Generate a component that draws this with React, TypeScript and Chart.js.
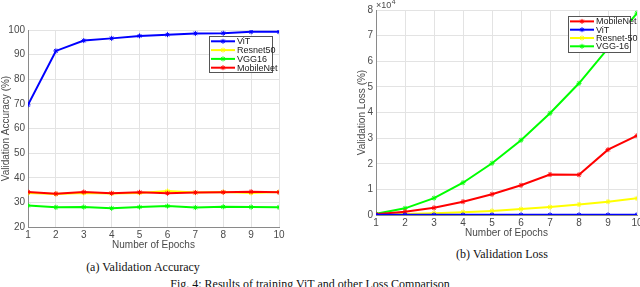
import React, { useEffect, useRef } from "react";
import { Chart, registerables } from "chart.js";

Chart.register(...registerables);

// ---------- DATA ----------
const epochs = [1, 2, 3, 4, 5, 6, 7, 8, 9, 10];

// Validation accuracy (%)
const accViT = [69.6, 91.5, 95.7, 96.6, 97.6, 98.1, 98.6, 98.7, 99.3, 99.3];
const accResnet50 = [33.8, 33.4, 33.8, 33.6, 33.8, 34.6, 34.0, 34.2, 33.8, 34.2];
const accVGG16 = [28.7, 28.0, 28.1, 27.6, 28.1, 28.5, 27.9, 28.2, 28.1, 28.0];
const accMobileNet = [34.2, 33.5, 34.2, 33.7, 34.1, 33.7, 34.0, 34.1, 34.3, 34.1];

// Validation loss (in units of 10^4)
const lossMobileNet = [0.03, 0.13, 0.28, 0.52, 0.81, 1.16, 1.58, 1.57, 2.55, 3.1];
const lossViT = [0.005, 0.005, 0.005, 0.005, 0.005, 0.005, 0.005, 0.005, 0.005, 0.005];
const lossResnet50 = [0.02, 0.04, 0.07, 0.11, 0.16, 0.23, 0.31, 0.41, 0.52, 0.65];
const lossVGG16 = [0.05, 0.26, 0.66, 1.26, 2.02, 2.92, 3.97, 5.14, 6.5, 7.88];

const accLegend = ["ViT", "Resnet50", "VGG16", "MobileNet"];
const lossLegend = ["MobileNet", "ViT", "Resnet-50", "VGG-16"];

const lossExponentLabel = "4";

const subCaptionA = "(a) Validation Accuracy";
const subCaptionB = "(b) Validation Loss";
const figCaption = "Fig. 4: Results of training ViT and other Loss Comparison";

// ---------- STYLE ----------
const BLUE = "#0000ff";
const YELLOW = "#ffff00";
const GREEN = "#00ff00";
const RED = "#ff0000";
const FONT = "'Liberation Sans', Arial, sans-serif";
const TICK_COLOR = "#4a4a4a";
const GRID_COLOR = "#e3e3e3";
const AXIS_COLOR = "#8a8a8a";

function drawStar(ctx: CanvasRenderingContext2D, x: number, y: number, r: number) {
  ctx.beginPath();
  ctx.moveTo(x - r, y);
  ctx.lineTo(x + r, y);
  ctx.moveTo(x, y - r);
  ctx.lineTo(x, y + r);
  const d = r * 0.7;
  ctx.moveTo(x - d, y - d);
  ctx.lineTo(x + d, y + d);
  ctx.moveTo(x - d, y + d);
  ctx.lineTo(x + d, y - d);
  ctx.stroke();
}

const boxLegend = {
  id: "boxLegend",
  afterDatasetsDraw(chart: any, _args: any, opts: any) {
    if (!opts || !opts.items) return;
    const { ctx } = chart;
    const { x, y, w, h, items, rowStart, rowStep } = opts;
    ctx.save();
    ctx.fillStyle = "#ffffff";
    ctx.fillRect(x, y, w, h);
    ctx.strokeStyle = "#555555";
    ctx.lineWidth = 1;
    ctx.strokeRect(Math.round(x) + 0.5, Math.round(y) + 0.5, w, h);
    ctx.font = `9px ${FONT}`;
    ctx.textBaseline = "middle";
    ctx.textAlign = "left";
    items.forEach((it: any, i: number) => {
      const cy = y + rowStart + i * rowStep;
      ctx.strokeStyle = it.color;
      ctx.lineWidth = 2;
      ctx.beginPath();
      ctx.moveTo(x + 2, cy);
      ctx.lineTo(x + 26, cy);
      ctx.stroke();
      ctx.lineWidth = 1;
      drawStar(ctx, x + 14, cy, 2.5);
      ctx.fillStyle = "#222222";
      ctx.fillText(it.label, x + 28, cy + 0.5);
    });
    ctx.restore();
  },
};

const expLabel = {
  id: "expLabel",
  afterDraw(chart: any, _args: any, opts: any) {
    if (!opts || !opts.show) return;
    const { ctx } = chart;
    ctx.save();
    ctx.fillStyle = TICK_COLOR;
    ctx.textBaseline = "middle";
    ctx.textAlign = "left";
    ctx.font = `9px ${FONT}`;
    const x = opts.x;
    const y = opts.y;
    ctx.fillText("\u00d710", x, y);
    const w = ctx.measureText("\u00d710").width;
    ctx.font = `7px ${FONT}`;
    ctx.fillText(opts.exp, x + w + 0.5, y - 3.5);
    ctx.restore();
  },
};

function ds(label: string, data: number[], color: string, order: number) {
  return {
    label,
    data: data.map((v, i) => ({ x: epochs[i], y: v })),
    borderColor: color,
    backgroundColor: color,
    borderWidth: 2,
    pointStyle: "star" as const,
    pointRadius: 2.5,
    pointBorderWidth: 1,
    pointBorderColor: color,
    tension: 0,
    order,
  };
}

function makeOptions(cfg: {
  padLeft: number;
  padRight: number;
  padTop: number;
  yWidth: number;
  xHeight: number;
  yMin: number;
  yMax: number;
  yStep: number;
  yTitle: string;
  legend: any;
  exp?: any;
}) {
  return {
    animation: false as const,
    responsive: false,
    maintainAspectRatio: false,
    layout: { padding: { left: cfg.padLeft, right: cfg.padRight, top: cfg.padTop, bottom: 0 } },
    plugins: {
      legend: { display: false },
      tooltip: { enabled: false },
      boxLegend: cfg.legend,
      expLabel: cfg.exp || { show: false },
    },
    scales: {
      x: {
        type: "linear" as const,
        min: 1,
        max: 10,
        afterFit: (s: any) => {
          s.height = cfg.xHeight;
        },
        ticks: {
          stepSize: 1,
          color: TICK_COLOR,
          font: { family: FONT, size: 10 },
          padding: 2,
          maxRotation: 0,
        },
        grid: { color: GRID_COLOR, drawTicks: false, lineWidth: 1 },
        border: { color: AXIS_COLOR, width: 1 },
        title: {
          display: true,
          text: "Number of Epochs",
          color: TICK_COLOR,
          font: { family: FONT, size: 10 },
          padding: { top: 0, bottom: 4 },
        },
      },
      y: {
        type: "linear" as const,
        min: cfg.yMin,
        max: cfg.yMax,
        afterFit: (s: any) => {
          s.width = cfg.yWidth;
        },
        ticks: {
          stepSize: cfg.yStep,
          color: TICK_COLOR,
          font: { family: FONT, size: 10 },
          padding: 3,
        },
        grid: { color: GRID_COLOR, drawTicks: false, lineWidth: 1 },
        border: { color: AXIS_COLOR, width: 1 },
        title: {
          display: true,
          text: cfg.yTitle,
          color: TICK_COLOR,
          font: { family: FONT, size: 10 },
          padding: { top: 0, bottom: 0 },
        },
      },
    },
  };
}

export default function App() {
  const accRef = useRef<HTMLCanvasElement>(null);
  const lossRef = useRef<HTMLCanvasElement>(null);

  useEffect(() => {
    const c1 = new Chart(accRef.current!, {
      type: "line",
      data: {
        datasets: [
          ds(accLegend[0], accViT, BLUE, 0),
          ds(accLegend[1], accResnet50, YELLOW, 3),
          ds(accLegend[2], accVGG16, GREEN, 2),
          ds(accLegend[3], accMobileNet, RED, 1),
        ],
      },
      options: makeOptions({
        padLeft: 0,
        padRight: 41,
        padTop: 30,
        yWidth: 28,
        xHeight: 28,
        yMin: 20,
        yMax: 100,
        yStep: 10,
        yTitle: "Validation Accuracy (%)",
        legend: {
          x: 209,
          y: 36,
          w: 63,
          h: 36,
          rowStart: 5.3,
          rowStep: 8.8,
          items: [
            { label: accLegend[0], color: BLUE },
            { label: accLegend[1], color: YELLOW },
            { label: accLegend[2], color: GREEN },
            { label: accLegend[3], color: RED },
          ],
        },
      }) as any,
      plugins: [boxLegend, expLabel],
    });

    const c2 = new Chart(lossRef.current!, {
      type: "line",
      data: {
        datasets: [
          ds(lossLegend[0], lossMobileNet, RED, 1),
          ds(lossLegend[1], lossViT, BLUE, 0),
          ds(lossLegend[2], lossResnet50, YELLOW, 2),
          ds(lossLegend[3], lossVGG16, GREEN, 3),
        ],
      },
      options: makeOptions({
        padLeft: 36,
        padRight: 13,
        padTop: 10,
        yWidth: 20,
        xHeight: 28,
        yMin: 0,
        yMax: 8,
        yStep: 1,
        yTitle: "Validation Loss (%)",
        legend: {
          x: 248,
          y: 16,
          w: 62,
          h: 36,
          rowStart: 5.4,
          rowStep: 8.3,
          items: [
            { label: lossLegend[0], color: RED },
            { label: lossLegend[1], color: BLUE },
            { label: lossLegend[2], color: YELLOW },
            { label: lossLegend[3], color: GREEN },
          ],
        },
        exp: { show: true, x: 56, y: 5.5, exp: lossExponentLabel },
      }) as any,
      plugins: [boxLegend, expLabel],
    });

    return () => {
      c1.destroy();
      c2.destroy();
    };
  }, []);

  const serif = "'Liberation Serif', 'Times New Roman', serif";

  return (
    <div
      style={{
        position: "absolute",
        left: 0,
        top: 0,
        width: 640,
        height: 287,
        overflow: "hidden",
        background: "#ffffff",
      }}
    >
      <canvas
        ref={accRef}
        width={320}
        height={255}
        style={{ position: "absolute", left: 0, top: 0, width: 320, height: 255 }}
      />
      <canvas
        ref={lossRef}
        width={330}
        height={243}
        style={{ position: "absolute", left: 320, top: 0, width: 330, height: 243 }}
      />
      <div
        style={{
          position: "absolute",
          left: 43,
          width: 200,
          top: 259,
          textAlign: "center",
          fontFamily: serif,
          fontSize: 12,
          lineHeight: "16px",
          color: "#111",
          whiteSpace: "nowrap",
        }}
      >
        {subCaptionA}
      </div>
      <div
        style={{
          position: "absolute",
          left: 402,
          width: 200,
          top: 246,
          textAlign: "center",
          fontFamily: serif,
          fontSize: 12,
          lineHeight: "16px",
          color: "#111",
          whiteSpace: "nowrap",
        }}
      >
        {subCaptionB}
      </div>
      <div
        style={{
          position: "absolute",
          left: 110,
          width: 400,
          top: 276,
          textAlign: "center",
          fontFamily: serif,
          fontSize: 12,
          lineHeight: "16px",
          color: "#111",
          whiteSpace: "nowrap",
        }}
      >
        {figCaption}
      </div>
    </div>
  );
}
